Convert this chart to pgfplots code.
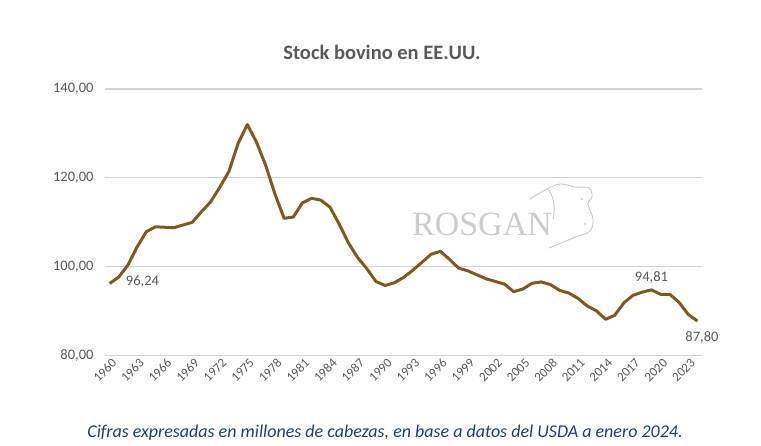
\documentclass[border=0pt]{standalone}
\usepackage{pgfplots}
\pgfplotsset{compat=1.18}
\usepackage{fontspec}
\setmainfont{Carlito}
\newfontfamily\serifwm{Liberation Serif}
\definecolor{linebrown}{RGB}{127,90,30}
\definecolor{ticktext}{RGB}{89,89,89}
\definecolor{gridgray}{RGB}{212,212,212}
\definecolor{capblue}{RGB}{28,63,128}
\begin{document}
\begin{tikzpicture}[x=1pt,y=1pt]
\path[use as bounding box] (0,0) rectangle (761,445);
\node[font=\fontsize{20.5}{24}\selectfont\bfseries, text=ticktext] at (382,393) {Stock bovino en EE.UU.};
\node[font=\fontsize{18}{21}\selectfont\itshape, text=capblue] at (385,12) {Cifras expresadas en millones de cabezas, en base a datos del USDA a enero 2024.};
\node[font=\serifwm\fontsize{34}{38}\selectfont, text=black!20] at (482,221) {ROSGAN};
\draw[black!22, line width=0.9pt, line cap=round] plot[smooth, tension=0.6] coordinates {
(530,246) (545,255) (560,261) (575,258) (589,257) (592,248) (588,241) (593,226) (590,214) (576,208) (561,202) (549,197)};
\draw[black!22, line width=0.9pt, line cap=round] (548,256) .. controls (553,250) and (556,238) .. (553,226);
\fill[black!22] (582,246) circle (1.1pt) (585,221) circle (1.1pt);
\begin{axis}[
  at={(105pt,89.3pt)}, anchor=south west,
  scale only axis, width=597pt, height=266.7pt,
  xmin=1959.5, xmax=2024.5, ymin=80, ymax=140,
  axis line style={draw=none},
  major tick length=0pt,
  ytick={80,100,120,140},
  xtick={1960,1963,...,2023},
  ymajorgrids, grid style={gridgray, line width=1.1pt},
  /pgf/number format/assume math mode=true,
  yticklabel style={/pgf/number format/.cd, fixed, fixed zerofill, precision=2, use comma, 1000 sep={}, /tikz/.cd, font=\fontsize{14.5}{16}\selectfont, text=ticktext, xshift=-8pt},
  xticklabel style={/pgf/number format/.cd, 1000 sep={}, /tikz/.cd, rotate=45, anchor=east, font=\fontsize{13}{15}\selectfont, text=ticktext, yshift=-7pt, xshift=3pt},
  clip=false,
]
\addplot[linebrown, line width=3pt, line join=round] coordinates {
(1960,96.24) (1961,97.7) (1962,100.4) (1963,104.5) (1964,107.9) (1965,109.0)
(1966,108.9) (1967,108.8) (1968,109.4) (1969,110.0) (1970,112.4) (1971,114.6)
(1972,117.9) (1973,121.5) (1974,127.8) (1975,132.0) (1976,128.0) (1977,122.8)
(1978,116.4) (1979,110.9) (1980,111.2) (1981,114.4) (1982,115.4) (1983,115.0)
(1984,113.4) (1985,109.6) (1986,105.4) (1987,102.1) (1988,99.6) (1989,96.7)
(1990,95.8) (1991,96.4) (1992,97.6) (1993,99.2) (1994,101.0) (1995,102.8)
(1996,103.5) (1997,101.7) (1998,99.7) (1999,99.1) (2000,98.2) (2001,97.3)
(2002,96.7) (2003,96.1) (2004,94.4) (2005,95.0) (2006,96.3) (2007,96.6)
(2008,96.0) (2009,94.7) (2010,94.1) (2011,92.9) (2012,91.2) (2013,90.1)
(2014,88.2) (2015,89.1) (2016,91.9) (2017,93.6) (2018,94.3) (2019,94.81)
(2020,93.8) (2021,93.8) (2022,92.0) (2023,89.3) (2024,87.80)
};
\node[anchor=west, font=\fontsize{14.5}{16}\selectfont, text=ticktext] at (axis cs:1961.4,96.7) {96,24};
\node[font=\fontsize{14.5}{16}\selectfont, text=ticktext] at (axis cs:2019,97.6) {94,81};
\node[font=\fontsize{14.5}{16}\selectfont, text=ticktext] at (axis cs:2024.5,84.1) {87,80};
\end{axis}
\end{tikzpicture}
\end{document}
